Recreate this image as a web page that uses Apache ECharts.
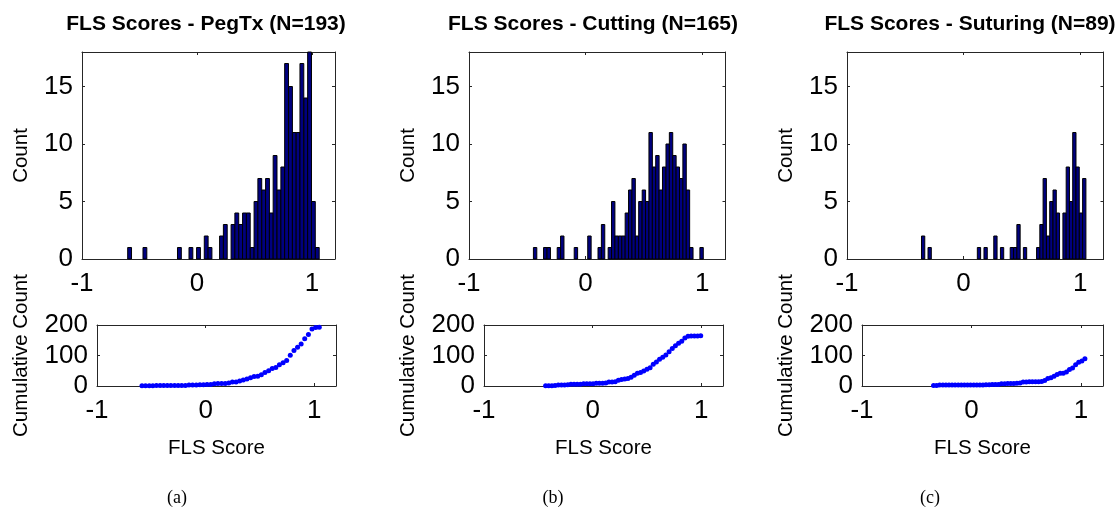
<!DOCTYPE html>
<html>
<head>
<meta charset="utf-8">
<script src="https://cdn.jsdelivr.net/npm/echarts@6/dist/echarts.min.js"></script>
<style>html,body{margin:0;padding:0;background:#fff}#c{width:1119px;height:509px}</style>
</head>
<body>
<div id="c"></div>
<script>
// ---------------- DATA ----------------
const titles = ['FLS Scores - PegTx (N=193)', 'FLS Scores - Cutting (N=165)', 'FLS Scores - Suturing (N=89)'];
const captions = ['(a)', '(b)', '(c)'];
const xTicks = [-1, 0, 1];

// PegTx histogram (50 bins)
const pegBinWidth = 0.0333;
const pegCenters = [-0.586,-0.553,-0.519,-0.486,-0.453,-0.419,-0.386,-0.353,-0.320,-0.286,
  -0.253,-0.220,-0.186,-0.153,-0.120,-0.086,-0.053,-0.020,0.013,0.047,
  0.080,0.113,0.147,0.180,0.213,0.246,0.280,0.313,0.346,0.380,
  0.413,0.446,0.480,0.513,0.546,0.580,0.613,0.646,0.679,0.713,
  0.746,0.779,0.813,0.846,0.879,0.912,0.946,0.979,1.012,1.046];
const pegCounts = [1,0,0,0,1,0,0,0,0,0,
  0,0,0,1,0,0,1,0,1,0,
  2,1,0,0,2,3,0,3,4,3,
  4,4,1,5,7,6,7,4,9,6,
  8,17,15,11,11,17,14,18,5,1];
const pegCumulative = [1,1,1,1,2,2,2,2,2,2,
  2,2,2,3,3,3,4,4,5,5,
  7,8,8,8,10,13,13,16,20,23,
  27,31,32,37,44,50,57,61,70,76,
  84,101,116,127,138,155,169,187,192,193];

// Cutting histogram (50 bins)
const cutBinWidth = 0.0291;
const cutCenters = [-0.433,-0.404,-0.375,-0.346,-0.316,-0.287,-0.258,-0.229,-0.200,-0.171,
  -0.142,-0.112,-0.083,-0.054,-0.025,0.004,0.033,0.062,0.092,0.121,
  0.150,0.179,0.208,0.237,0.266,0.296,0.325,0.354,0.383,0.412,
  0.441,0.470,0.500,0.529,0.558,0.587,0.616,0.645,0.674,0.704,
  0.733,0.762,0.791,0.820,0.849,0.878,0.907,0.937,0.966,0.995];
const cutCounts = [1,0,0,1,1,0,0,1,2,0,
  0,0,1,0,0,0,2,0,0,1,
  3,0,1,5,2,2,2,4,6,7,
  2,5,6,5,11,8,9,6,8,10,
  11,9,8,7,10,6,1,0,0,1];
const cutCumulative = [1,1,1,2,3,3,3,4,6,6,
  6,6,7,7,7,7,9,9,9,10,
  13,13,14,19,21,23,25,29,35,42,
  44,49,55,60,71,79,88,94,102,112,
  123,132,140,147,157,163,164,164,164,165];

// Suturing histogram (50 bins)
const sutBinWidth = 0.0282;
const sutCenters = [-0.347,-0.319,-0.291,-0.262,-0.234,-0.206,-0.178,-0.150,-0.121,-0.093,
  -0.065,-0.037,-0.009,0.020,0.048,0.076,0.104,0.132,0.161,0.189,
  0.217,0.245,0.273,0.302,0.330,0.358,0.386,0.414,0.443,0.471,
  0.499,0.527,0.555,0.584,0.612,0.640,0.668,0.696,0.725,0.753,
  0.781,0.809,0.837,0.866,0.894,0.922,0.950,0.978,1.007,1.035];
const sutCounts = [2,0,1,0,0,0,0,0,0,0,
  0,0,0,0,0,0,0,1,0,1,
  0,0,2,0,1,0,0,1,1,3,
  0,1,0,0,0,1,3,7,2,5,
  6,4,0,4,8,5,11,8,4,7];
const sutCumulative = [2,2,3,3,3,3,3,3,3,3,
  3,3,3,3,3,3,3,4,4,5,
  5,5,7,7,8,8,8,9,10,13,
  13,14,14,14,14,15,18,25,27,32,
  38,42,42,46,54,59,70,78,82,89];

// ---------------- LAYOUT ----------------
const histGrids = [
  {left: 82, top: 52, width: 253, height: 207},
  {left: 469, top: 52, width: 256.5, height: 207},
  {left: 847, top: 52, width: 256.5, height: 207}
];
const cumGrids = [
  {left: 97, top: 325, width: 239, height: 61},
  {left: 484, top: 325, width: 239, height: 61},
  {left: 862, top: 325, width: 241, height: 61}
];
const titleX = [201, 588, 965];
const captionX = [172, 548, 925];

const FONT = '"Liberation Sans", Arial, Helvetica, sans-serif';
const AXC = '#262626';
const panels = [
  {centers: pegCenters, counts: pegCounts, cum: pegCumulative, bw: pegBinWidth},
  {centers: cutCenters, counts: cutCounts, cum: cutCumulative, bw: cutBinWidth},
  {centers: sutCenters, counts: sutCounts, cum: sutCumulative, bw: sutBinWidth}
];

const grid = [], xAxis = [], yAxis = [], series = [], title = [];

function addAxes(gi, ymax, yint, xName, yName, yGap) {
  const lineStyle = {color: AXC, width: 1};
  const tick = {show: true, inside: true, length: 3, lineStyle};
  xAxis.push({
    type: 'value', gridIndex: gi, min: -1, max: 1.2, interval: 1, position: 'bottom',
    axisLine: {show: true, onZero: false, lineStyle},
    axisTick: tick, splitLine: {show: false},
    axisLabel: {show: true, margin: 12, fontSize: 26, color: '#000', fontFamily: FONT, showMaxLabel: false,
      formatter: v => (Math.abs(v - Math.round(v)) < 1e-9 ? String(Math.round(v)) : '')},
    name: xName, nameLocation: 'middle', nameGap: 52,
    nameTextStyle: {fontSize: 20.5, color: '#000', fontFamily: FONT}
  });
  xAxis.push({
    type: 'value', gridIndex: gi, min: -1, max: 1.2, interval: 1, position: 'top',
    axisLine: {show: true, onZero: false, lineStyle},
    axisTick: tick, axisLabel: {show: false}, splitLine: {show: false}
  });
  yAxis.push({
    type: 'value', gridIndex: gi, min: 0, max: ymax, interval: yint, position: 'left',
    axisLine: {show: true, onZero: false, lineStyle},
    axisTick: tick, splitLine: {show: false},
    axisLabel: {show: true, margin: 9, fontSize: 26, color: '#000', fontFamily: FONT,
      formatter: v => (v % yint === 0 ? String(v) : '')},
    name: yName, nameLocation: 'middle', nameGap: yGap, nameRotate: 90,
    nameTextStyle: {fontSize: 20.5, color: '#000', fontFamily: FONT}
  });
  yAxis.push({
    type: 'value', gridIndex: gi, min: 0, max: ymax, interval: yint, position: 'right',
    axisLine: {show: true, onZero: false, lineStyle},
    axisTick: tick, axisLabel: {show: false}, splitLine: {show: false}
  });
}

panels.forEach((p, k) => {
  // histogram grid
  const hg = grid.length;
  grid.push(Object.assign({containLabel: false}, histGrids[k]));
  addAxes(hg, 18, 5, '', 'Count', 50);
  const bw = p.bw;
  series.push({
    type: 'custom', xAxisIndex: 2 * hg, yAxisIndex: 2 * hg,
    data: p.centers.map((c, i) => [c, p.counts[i]]),
    renderItem: (params, api) => {
      const c = api.value(0), h = api.value(1);
      if (!h) return null;
      const a = api.coord([c - bw / 2, 0]);
      const b = api.coord([c + bw / 2, h]);
      return {type: 'rect', shape: {x: a[0], y: b[1], width: b[0] - a[0], height: a[1] - b[1]},
        style: {fill: '#00007f', stroke: '#000', lineWidth: 1}};
    }
  });
  // cumulative grid
  const cg = grid.length;
  grid.push(Object.assign({containLabel: false}, cumGrids[k]));
  addAxes(cg, 200, 100, 'FLS Score', 'Cumulative Count', 65);
  series.push({
    type: 'scatter', xAxisIndex: 2 * cg, yAxisIndex: 2 * cg,
    data: p.centers.map((c, i) => [c, p.cum[i]]),
    symbol: 'circle', symbolSize: 5,
    itemStyle: {color: '#0000ff', opacity: 1}
  });
  // title
  title.push({
    text: titles[k], left: titleX[k], top: 9, textAlign: 'center',
    textStyle: {fontSize: 21, fontWeight: 'bold', color: '#000', fontFamily: FONT}
  });
  title.push({
    text: captions[k], left: captionX[k], top: 484, textAlign: 'center',
    textStyle: {fontSize: 18, fontWeight: 'normal', color: '#000', fontFamily: '"Liberation Serif", "DejaVu Serif", serif'}
  });
});

const chart = echarts.init(document.getElementById('c'), null, {renderer: 'canvas'});
chart.setOption({
  backgroundColor: '#fff',
  animation: false,
  title, grid, xAxis, yAxis, series
});
</script>
</body>
</html>
